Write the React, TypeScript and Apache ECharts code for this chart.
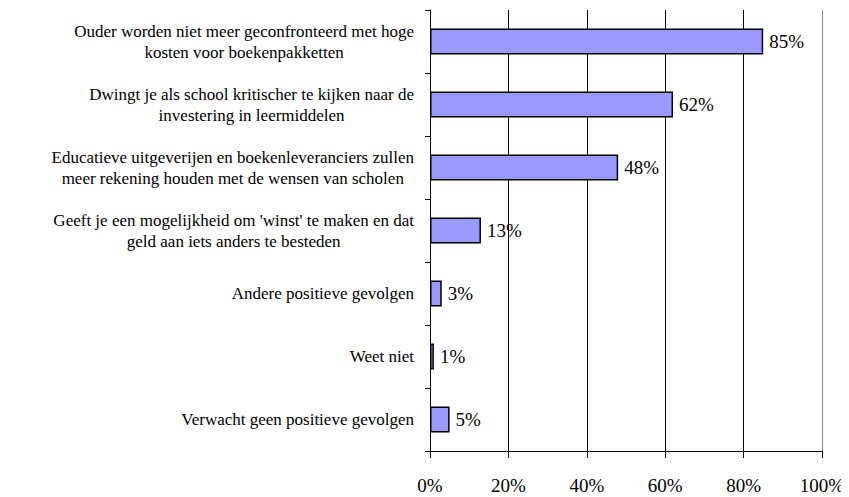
import React, { useEffect, useRef } from "react";
import * as echarts from "echarts";

const categories: string[] = [
  "Ouder worden niet meer geconfronteerd met hoge\nkosten voor boekenpakketten",
  "Dwingt je als school kritischer te kijken naar de\ninvestering in leermiddelen",
  "Educatieve uitgeverijen en boekenleveranciers zullen\nmeer rekening houden met de wensen van scholen",
  "Geeft je een mogelijkheid om 'winst' te maken en dat\ngeld aan iets anders te besteden",
  "Andere positieve gevolgen",
  "Weet niet",
  "Verwacht geen positieve gevolgen",
];
const values: number[] = [85, 62, 48, 13, 3, 1, 5];
const xTicks: number[] = [0, 20, 40, 60, 80, 100];

const FONT = "Liberation Serif";

export default function App() {
  const ref = useRef<HTMLDivElement>(null);
  useEffect(() => {
    if (!ref.current) return;
    const chart = echarts.init(ref.current, undefined, { renderer: "svg" });
    chart.setOption({
      animation: false,
      backgroundColor: "#ffffff",
      textStyle: { fontFamily: FONT },
      grid: { left: 430, right: 27, top: 10, bottom: 46, containLabel: false },
      xAxis: {
        type: "value",
        min: xTicks[0],
        max: xTicks[xTicks.length - 1],
        interval: 20,
        axisLine: { show: true, lineStyle: { color: "#000", width: 1 } },
        axisTick: { show: true, length: 7, lineStyle: { color: "#000" } },
        axisLabel: {
          formatter: "{value}%",
          color: "#000",
          fontSize: 19,
          fontFamily: FONT,
          margin: 25,
        },
        splitLine: {
          show: true,
          lineStyle: { color: ["#000", "#000", "#000", "#000", "#000", "#888"], width: 1 },
        },
      },
      yAxis: {
        type: "category",
        inverse: true,
        data: categories,
        axisLine: { show: true, lineStyle: { color: "#000", width: 1 } },
        axisTick: { show: true, length: 5, lineStyle: { color: "#000" } },
        axisLabel: {
          margin: 16,
          color: "#000",
          fontFamily: FONT,
          fontSize: 17,
          formatter: (v: string) =>
            v
              .split("\n")
              .map((l) => `{c|${l}}`)
              .join("\n"),
          rich: {
            c: {
              align: "center",
              fontSize: 17,
              lineHeight: 21,
              fontFamily: FONT,
              color: "#000",
            },
          },
        },
      },
      series: [
        {
          type: "bar",
          data: values,
          barWidth: 26,
          itemStyle: { color: "#9999FF", borderColor: "#000", borderWidth: 1.5 },
          label: {
            show: true,
            position: "right",
            distance: 6,
            formatter: "{c}%",
            color: "#000",
            fontSize: 19,
            fontFamily: FONT,
          },
        },
      ],
    });
    return () => chart.dispose();
  }, []);
  return <div ref={ref} style={{ width: 849, height: 497, marginLeft: -8, marginTop: -8 }} />;
}
